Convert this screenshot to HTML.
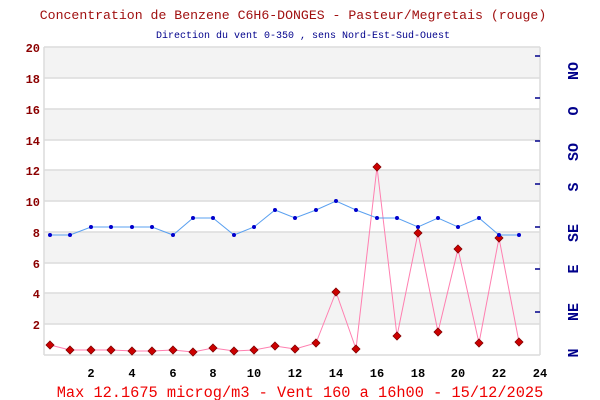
<!DOCTYPE html>
<html><head><style>body{margin:0;background:#fff}svg{display:block}</style></head><body>
<svg width="600" height="400" xmlns="http://www.w3.org/2000/svg" font-family="Liberation Mono, monospace">
<rect width="600" height="400" fill="#fff"/>
<text x="293" y="19" text-anchor="middle" font-size="13.2" fill="#a01010">Concentration de Benzene C6H6-DONGES - Pasteur/Megretais (rouge)</text>
<text x="303" y="38" text-anchor="middle" font-size="10" fill="#00008b">Direction du vent 0-350 , sens Nord-Est-Sud-Ouest</text>
<g fill="#f3f3f3">
<rect x="44" y="47" width="496" height="31"/><rect x="44" y="109" width="496" height="31"/><rect x="44" y="170" width="496" height="31"/><rect x="44" y="232" width="496" height="31"/><rect x="44" y="293" width="496" height="31"/>
</g>
<g stroke="#dcdcdc" stroke-width="1.5">
<line x1="44" y1="47" x2="540" y2="47"/><line x1="44" y1="78" x2="540" y2="78"/><line x1="44" y1="109" x2="540" y2="109"/><line x1="44" y1="140" x2="540" y2="140"/><line x1="44" y1="170" x2="540" y2="170"/><line x1="44" y1="201" x2="540" y2="201"/><line x1="44" y1="232" x2="540" y2="232"/><line x1="44" y1="263" x2="540" y2="263"/><line x1="44" y1="293" x2="540" y2="293"/><line x1="44" y1="324" x2="540" y2="324"/><line x1="44" y1="355" x2="540" y2="355"/>
<line x1="44" y1="47" x2="44" y2="355"/><line x1="540" y1="47" x2="540" y2="355"/>
</g>
<g font-size="12" font-weight="bold" fill="#8b0000" text-anchor="end">
<text x="40" y="52">20</text><text x="40" y="83">18</text><text x="40" y="114">16</text><text x="40" y="145">14</text><text x="40" y="175">12</text><text x="40" y="206">10</text><text x="40" y="237">8</text><text x="40" y="268">6</text><text x="40" y="298">4</text><text x="40" y="329">2</text>
</g>
<g font-size="12" font-weight="bold" fill="#000" text-anchor="middle">
<text x="91" y="377">2</text><text x="132" y="377">4</text><text x="173" y="377">6</text><text x="213" y="377">8</text><text x="254" y="377">10</text><text x="295" y="377">12</text><text x="336" y="377">14</text><text x="377" y="377">16</text><text x="418" y="377">18</text><text x="458" y="377">20</text><text x="499" y="377">22</text><text x="540" y="377">24</text>
</g>
<g stroke="#00008b" stroke-width="1.5">
<line x1="535" y1="312" x2="540" y2="312"/><line x1="535" y1="269" x2="540" y2="269"/><line x1="535" y1="227" x2="540" y2="227"/><line x1="535" y1="184" x2="540" y2="184"/><line x1="535" y1="141" x2="540" y2="141"/><line x1="535" y1="98" x2="540" y2="98"/><line x1="535" y1="56" x2="540" y2="56"/>
</g>
<g font-size="15" font-weight="bold" fill="#00008b" text-anchor="middle">
<text transform="translate(578,353) rotate(-90)">N</text>
<text transform="translate(578,312) rotate(-90)">NE</text>
<text transform="translate(578,269) rotate(-90)">E</text>
<text transform="translate(578,233) rotate(-90)">SE</text>
<text transform="translate(578,187) rotate(-90)">S</text>
<text transform="translate(578,152) rotate(-90)">SO</text>
<text transform="translate(578,111) rotate(-90)">O</text>
<text transform="translate(578,71) rotate(-90)">NO</text>
</g>
<polyline fill="none" stroke="#ff7fb0" stroke-width="1" points="50,345 70,350 91,350 111,350 132,351 152,351 173,350 193,352 213,348 234,351 254,350 275,346 295,349 316,343 336,292 356,349 377,167 397,336 418,233 438,332 458,249 479,343 499,238 519,342"/>
<g fill="#cc0000" stroke="#800000" stroke-width="0.8">
<path d="M50,341l4,4l-4,4l-4,-4z"/><path d="M70,346l4,4l-4,4l-4,-4z"/><path d="M91,346l4,4l-4,4l-4,-4z"/><path d="M111,346l4,4l-4,4l-4,-4z"/><path d="M132,347l4,4l-4,4l-4,-4z"/><path d="M152,347l4,4l-4,4l-4,-4z"/><path d="M173,346l4,4l-4,4l-4,-4z"/><path d="M193,348l4,4l-4,4l-4,-4z"/><path d="M213,344l4,4l-4,4l-4,-4z"/><path d="M234,347l4,4l-4,4l-4,-4z"/><path d="M254,346l4,4l-4,4l-4,-4z"/><path d="M275,342l4,4l-4,4l-4,-4z"/><path d="M295,345l4,4l-4,4l-4,-4z"/><path d="M316,339l4,4l-4,4l-4,-4z"/><path d="M336,288l4,4l-4,4l-4,-4z"/><path d="M356,345l4,4l-4,4l-4,-4z"/><path d="M377,163l4,4l-4,4l-4,-4z"/><path d="M397,332l4,4l-4,4l-4,-4z"/><path d="M418,229l4,4l-4,4l-4,-4z"/><path d="M438,328l4,4l-4,4l-4,-4z"/><path d="M458,245l4,4l-4,4l-4,-4z"/><path d="M479,339l4,4l-4,4l-4,-4z"/><path d="M499,234l4,4l-4,4l-4,-4z"/><path d="M519,338l4,4l-4,4l-4,-4z"/>
</g>
<polyline fill="none" stroke="#5aa0f0" stroke-width="1" points="50,235 70,235 91,227 111,227 132,227 152,227 173,235 193,218 213,218 234,235 254,227 275,210 295,218 316,210 336,201 356,210 377,218 397,218 418,227 438,218 458,227 479,218 499,235 519,235"/>
<g fill="#0000cc">
<circle cx="50" cy="235" r="2"/><circle cx="70" cy="235" r="2"/><circle cx="91" cy="227" r="2"/><circle cx="111" cy="227" r="2"/><circle cx="132" cy="227" r="2"/><circle cx="152" cy="227" r="2"/><circle cx="173" cy="235" r="2"/><circle cx="193" cy="218" r="2"/><circle cx="213" cy="218" r="2"/><circle cx="234" cy="235" r="2"/><circle cx="254" cy="227" r="2"/><circle cx="275" cy="210" r="2"/><circle cx="295" cy="218" r="2"/><circle cx="316" cy="210" r="2"/><circle cx="336" cy="201" r="2"/><circle cx="356" cy="210" r="2"/><circle cx="377" cy="218" r="2"/><circle cx="397" cy="218" r="2"/><circle cx="418" cy="227" r="2"/><circle cx="438" cy="218" r="2"/><circle cx="458" cy="227" r="2"/><circle cx="479" cy="218" r="2"/><circle cx="499" cy="235" r="2"/><circle cx="519" cy="235" r="2"/>
</g>
<text x="300" y="397" text-anchor="middle" font-size="15.3" fill="#ee0000">Max 12.1675 microg/m3 - Vent 160  a 16h00 - 15/12/2025</text>
</svg>
</body></html>
